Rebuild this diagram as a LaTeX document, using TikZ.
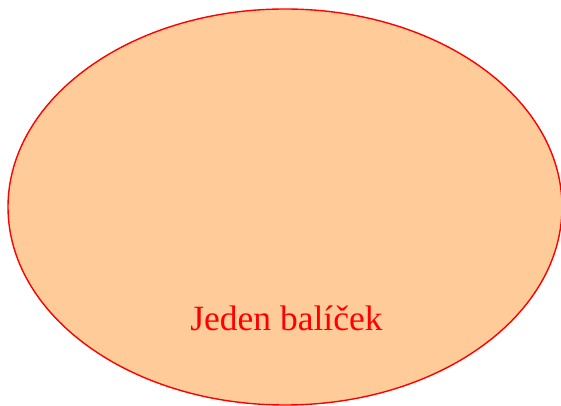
\documentclass[tikz,border=0pt]{standalone}
\usepackage{fontspec,xcolor}
\setmainfont{Liberation Serif}
\usetikzlibrary{shapes.geometric,positioning}
\definecolor{peach}{RGB}{255,204,153}
\definecolor{red}{RGB}{255,0,0}

\begin{document}
\begin{tikzpicture}[x=1pt,y=1pt,
  pkgbox/.style={draw=red,fill=peach,line width=1.4pt,ellipse,inner sep=0pt,minimum width=554pt,minimum height=396pt},
  pkgtext/.style={text=red,font=\fontsize{35.5}{40}\selectfont,inner sep=0pt,anchor=base}]
\useasboundingbox (0,0) rectangle (561,406);
\node[pkgbox] (pkg) at (285,199) {};
\node[pkgtext] (pkglabel) at (286.5,75) {Jeden balíček};
\end{tikzpicture}
\end{document}
